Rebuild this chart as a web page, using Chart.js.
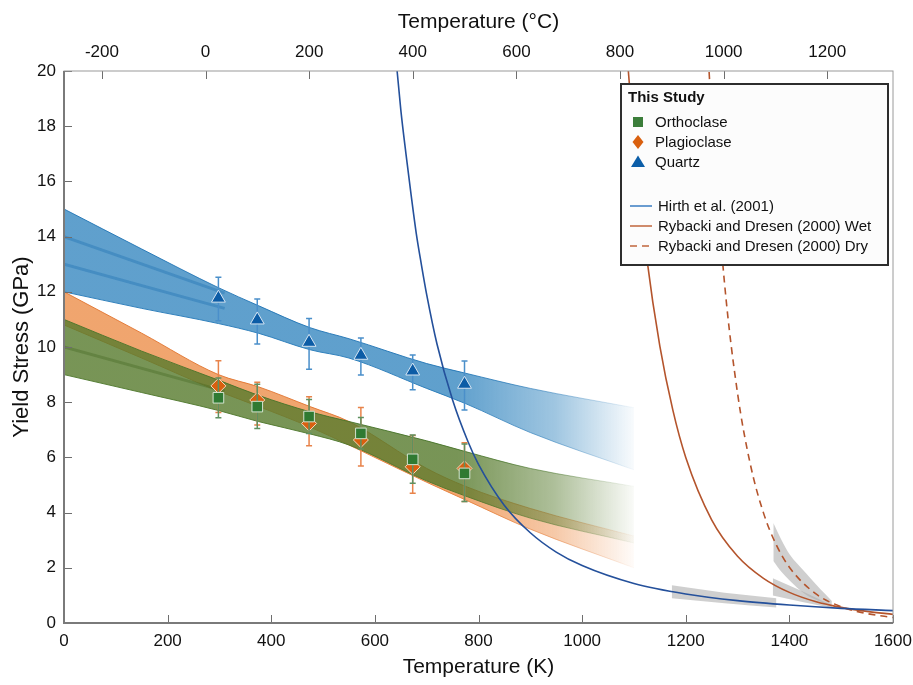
<!DOCTYPE html>
<html>
<head>
<meta charset="utf-8">
<script src="https://cdn.jsdelivr.net/npm/chart.js@4.4.1/dist/chart.umd.min.js"></script>
<style>
    html, body { margin: 0; padding: 0; background: #fff; }
    #wrap { width: 913px; height: 685px; }
</style>
</head>
<body>
<div id="wrap"><canvas id="yieldChart" width="913" height="685"></canvas></div>
<script>
// sample temperatures (K) and measured yield stress (GPa)
const sampleT = [298, 373, 473, 573, 673, 773];
const quartzY = [11.77, 10.98, 10.17, 9.70, 9.13, 8.65];
const quartzHi = [12.53, 11.74, 11.03, 10.33, 9.71, 9.49];
const quartzLo = [10.95, 10.11, 9.19, 8.99, 8.45, 7.72];
const plagY = [8.59, 8.08, 7.23, 6.63, 5.66, 5.60];
const plagHi = [9.50, 8.72, 8.20, 7.81, 6.79, 6.53];
const plagLo = [7.63, 7.17, 6.42, 5.69, 4.70, 4.40];
const orthY = [8.16, 7.84, 7.48, 6.87, 5.93, 5.42];
const orthHi = [8.88, 8.65, 8.10, 7.45, 6.81, 6.49];
const orthLo = [7.44, 7.05, 6.87, 6.30, 5.06, 4.40];

// fitted envelopes
const bandT = [0, 150, 298, 375, 475, 550, 700, 775, 900, 1100];
const quartzUpper = [15.0, 13.55, 12.15, 11.5, 10.7, 10.3, 9.4, 9.05, 8.5, 7.8];
const quartzLower = [12.0, 11.4, 10.85, 10.5, 9.9, 9.6, 8.5, 7.95, 6.9, 5.55];
const plagUpper = [12.0, 10.5, 9.0, 8.56, 7.84, 7.3, 5.6, 4.95, 4.15, 3.15];
const plagLower = [10.8, 9.6, 8.4, 7.85, 7.1, 6.45, 5.1, 4.46, 3.4, 2.0];
const orthUpper = [11.0, 9.85, 8.8, 8.25, 7.65, 7.3, 6.6, 6.21, 5.6, 4.95];
const orthLower = [9.0, 8.35, 7.7, 7.3, 6.85, 6.45, 5.15, 4.6, 3.8, 2.9];

const innerT = [0, 310];
const quartzInnerA = [14.0, 11.95];
const quartzInnerB = [13.0, 11.4];
const orthInner = [10.0, 8.4];

// published flow laws
const hirthT = [640, 650, 660, 670, 680, 690, 700, 720, 750, 780, 800, 850, 900, 950, 1000, 1100, 1200, 1300, 1400, 1500, 1600];
const hirthY = [20.6, 18.6, 17.0, 15.5, 14.1, 12.96, 11.9, 10.1, 8.08, 6.56, 5.75, 4.26, 3.27, 2.57, 2.08, 1.43, 1.05, 0.81, 0.65, 0.53, 0.45];
const wetT = [1085, 1100, 1125, 1150, 1175, 1200, 1250, 1300, 1350, 1400, 1450, 1500, 1550, 1600];
const wetY = [20.98, 17.56, 13.19, 10.03, 7.72, 6.0, 3.74, 2.42, 1.62, 1.11, 0.78, 0.566, 0.42, 0.313];
const dryT = [1240, 1250, 1275, 1300, 1325, 1350, 1375, 1400, 1450, 1500, 1550, 1600];
const dryY = [21.7, 18.4, 12.28, 8.32, 5.72, 3.99, 2.82, 2.02, 1.07, 0.59, 0.34, 0.20];

// grey uncertainty envelopes at high T
const grey1T = [1173, 1275, 1375];
const grey1Upper = [1.37, 1.1, 0.9];
const grey1Lower = [0.9, 0.72, 0.56];
const grey2T = [1368, 1425, 1482];
const grey2Upper = [1.62, 1.15, 0.63];
const grey2Lower = [1.0, 0.76, 0.55];
const grey3T = [1369, 1385, 1400, 1430, 1460, 1482];
const grey3Upper = [3.62, 3.0, 2.5, 1.85, 1.22, 0.8];
const grey3Lower = [2.25, 1.85, 1.55, 1.05, 0.77, 0.6];

const kelvinTicks = [0, 200, 400, 600, 800, 1000, 1200, 1400, 1600];
const celsiusTicks = [-200, 0, 200, 400, 600, 800, 1000, 1200];

const FONT = '"Liberation Sans", Arial, Helvetica, sans-serif';
Chart.defaults.font.family = FONT;
Chart.defaults.color = '#111';

const pts = (xs, ys) => xs.map((x, i) => ({ x: x, y: ys[i] }));

// band colour that fades out towards the high temperature end
function fadeFill(rgb, alpha) {
    return function(context) {
        const chart = context.chart;
        if (!chart.chartArea) return `rgba(${rgb},${alpha})`;
        const xs = chart.scales.x;
        const g = chart.ctx.createLinearGradient(xs.getPixelForValue(760), 0, xs.getPixelForValue(1100), 0);
        g.addColorStop(0, `rgba(${rgb},${alpha})`);
        g.addColorStop(0.55, `rgba(${rgb},${alpha * 0.6})`);
        g.addColorStop(1, `rgba(${rgb},0.03)`);
        return g;
    };
}

function band(upper, lower, xs, rgb, alpha, edge, order) {
    return [{
        data: pts(xs, upper),
        showLine: true, fill: '+1',
        backgroundColor: fadeFill(rgb, alpha),
        borderColor: fadeFill(edge, 0.9), borderWidth: 1,
        pointRadius: 0, cubicInterpolationMode: 'monotone', order: order
    }, {
        data: pts(xs, lower),
        showLine: true, fill: false,
        borderColor: fadeFill(edge, 0.9), borderWidth: 1,
        pointRadius: 0, cubicInterpolationMode: 'monotone', order: order
    }];
}

function greyBand(xs, upper, lower) {
    return [{
        data: pts(xs, upper), showLine: true, fill: '+1',
        backgroundColor: 'rgba(175,175,175,0.6)', borderWidth: 0,
        pointRadius: 0, cubicInterpolationMode: 'monotone', order: 8
    }, {
        data: pts(xs, lower), showLine: true, fill: false,
        borderWidth: 0, pointRadius: 0, cubicInterpolationMode: 'monotone', order: 8
    }];
}

function innerLine(ys, color) {
    return {
        data: pts(innerT, ys), showLine: true, fill: false,
        borderColor: color, borderWidth: 3, pointRadius: 0, order: 9
    };
}

const datasets = [
    ...band(quartzUpper, quartzLower, bandT, '42,128,188', 0.75, '30,115,180', 12),
    ...band(plagUpper, plagLower, bandT, '235,135,62', 0.75, '225,115,45', 11),
    ...band(orthUpper, orthLower, bandT, '86,122,44', 0.8, '70,115,40', 10),
    innerLine(quartzInnerA, 'rgba(30,112,178,0.4)'),
    innerLine(quartzInnerB, 'rgba(30,112,178,0.4)'),
    innerLine(orthInner, 'rgba(70,105,35,0.4)'),
    ...greyBand(grey1T, grey1Upper, grey1Lower),
    ...greyBand(grey2T, grey2Upper, grey2Lower),
    ...greyBand(grey3T, grey3Upper, grey3Lower),
    {
        label: 'Hirth et al. (2001)', legendLine: true,
        data: pts(hirthT, hirthY), showLine: true, fill: false,
        borderColor: '#24509b', borderWidth: 1.6, pointRadius: 0,
        cubicInterpolationMode: 'monotone', order: 5
    },
    {
        label: 'Rybacki and Dresen (2000) Wet', legendLine: true,
        data: pts(wetT, wetY), showLine: true, fill: false,
        borderColor: '#b4542c', borderWidth: 1.6, pointRadius: 0,
        cubicInterpolationMode: 'monotone', order: 5
    },
    {
        label: 'Rybacki and Dresen (2000) Dry', legendLine: true,
        data: pts(dryT, dryY), showLine: true, fill: false,
        borderColor: '#b4542c', borderWidth: 1.6, borderDash: [7, 5], pointRadius: 0,
        cubicInterpolationMode: 'monotone', order: 5
    },
    {
        label: 'Orthoclase', legendMarker: 'rect', markerColor: '#3b7d3a',
        data: pts(sampleT, orthY), errHi: orthHi, errLo: orthLo, errColor: '#5f9060',
        pointStyle: 'rect', pointRadius: 7.5, backgroundColor: '#2f7a32',
        borderColor: '#d4e3d0', borderWidth: 1, order: 1
    },
    {
        label: 'Plagioclase', legendMarker: 'diamond', markerColor: '#d9600f',
        data: pts(sampleT, plagY), errHi: plagHi, errLo: plagLo, errColor: '#e8834a',
        pointStyle: 'rectRot', pointRadius: 7.5, backgroundColor: '#d9600f',
        borderColor: '#f6d4b8', borderWidth: 1, order: 2
    },
    {
        label: 'Quartz', legendMarker: 'triangle', markerColor: '#0c5ea8',
        data: pts(sampleT, quartzY), errHi: quartzHi, errLo: quartzLo, errColor: '#4a8fca',
        pointStyle: 'triangle', pointRadius: 8, backgroundColor: '#0c5ca6',
        borderColor: '#d6e5f2', borderWidth: 1, order: 3
    }
];

// vertical error bars, drawn just under their markers
const errorBars = {
    id: 'errorBars',
    beforeDatasetDraw(chart, args) {
        const ds = chart.data.datasets[args.index];
        if (!ds.errHi) return;
        const ctx = chart.ctx, xs = chart.scales.x, ys = chart.scales.y;
        ctx.save();
        ctx.strokeStyle = ds.errColor;
        ctx.lineWidth = 1.5;
        ds.data.forEach((p, i) => {
            const px = xs.getPixelForValue(p.x);
            const top = ys.getPixelForValue(ds.errHi[i]);
            const bot = ys.getPixelForValue(ds.errLo[i]);
            ctx.beginPath();
            ctx.moveTo(px, top); ctx.lineTo(px, bot);
            ctx.moveTo(px - 3, top); ctx.lineTo(px + 3, top);
            ctx.moveTo(px - 3, bot); ctx.lineTo(px + 3, bot);
            ctx.stroke();
        });
        ctx.restore();
    }
};

// matlab style box with inward ticks
const axesBox = {
    id: 'axesBox',
    afterDatasetsDraw(chart) {
        const ctx = chart.ctx, a = chart.chartArea;
        const xs = chart.scales.x, x2 = chart.scales.x2, ys = chart.scales.y;
        ctx.save();
        ctx.strokeStyle = '#6e6e6e';
        ctx.lineWidth = 1;
        ctx.beginPath();
        xs.ticks.forEach(t => {
            const px = Math.round(xs.getPixelForValue(t.value)) + 0.5;
            ctx.moveTo(px, a.bottom); ctx.lineTo(px, a.bottom - 8);
        });
        x2.ticks.forEach(t => {
            const px = Math.round(x2.getPixelForValue(t.value)) + 0.5;
            ctx.moveTo(px, a.top); ctx.lineTo(px, a.top + 8);
        });
        ys.ticks.forEach(t => {
            const py = Math.round(ys.getPixelForValue(t.value)) + 0.5;
            ctx.moveTo(a.left, py); ctx.lineTo(a.left + 8, py);
        });
        ctx.stroke();
        ctx.strokeStyle = '#9a9a9a';
        ctx.strokeRect(a.left, a.top, a.right - a.left, a.bottom - a.top);
        ctx.strokeStyle = '#7a7a7a';
        ctx.lineWidth = 2;
        ctx.beginPath();
        ctx.moveTo(a.left, a.top); ctx.lineTo(a.left, a.bottom); ctx.lineTo(a.right, a.bottom);
        ctx.stroke();
        ctx.restore();
    }
};

function drawMarker(ctx, shape, x, y, color) {
    ctx.fillStyle = color;
    ctx.beginPath();
    if (shape === 'rect') {
        ctx.rect(x - 5, y - 5, 10, 10);
    } else if (shape === 'diamond') {
        ctx.moveTo(x, y - 7); ctx.lineTo(x + 5.5, y); ctx.lineTo(x, y + 7); ctx.lineTo(x - 5.5, y);
        ctx.closePath();
    } else {
        ctx.moveTo(x, y - 6.5); ctx.lineTo(x + 7, y + 5); ctx.lineTo(x - 7, y + 5);
        ctx.closePath();
    }
    ctx.fill();
}

const legendBox = {
    id: 'legendBox',
    afterDraw(chart) {
        const ctx = chart.ctx, a = chart.chartArea;
        const left = a.right - 272, top = a.top + 13, w = 267, h = 181;
        ctx.save();
        ctx.fillStyle = '#fcfcfc';
        ctx.fillRect(left, top, w, h);
        ctx.strokeStyle = '#2d2d2d';
        ctx.lineWidth = 2;
        ctx.strokeRect(left, top, w, h);
        ctx.textBaseline = 'middle';
        ctx.textAlign = 'left';
        ctx.fillStyle = '#111';
        ctx.font = 'bold 15px ' + FONT;
        ctx.fillText('This Study', left + 7, top + 14);
        ctx.font = '15px ' + FONT;
        const sets = chart.data.datasets;
        let y = top + 38;
        sets.filter(d => d.legendMarker).forEach(d => {
            drawMarker(ctx, d.legendMarker, left + 17, y, d.markerColor);
            ctx.fillStyle = '#111';
            ctx.fillText(d.label, left + 34, y + 1);
            y += 20;
        });
        y = top + 122;
        sets.filter(d => d.legendLine).forEach(d => {
            ctx.strokeStyle = d.label.startsWith('Hirth') ? '#3a7cc2' : '#c0663c';
            ctx.lineWidth = 1.5;
            ctx.setLineDash(d.borderDash || []);
            ctx.beginPath();
            ctx.moveTo(left + 9, y); ctx.lineTo(left + 31, y);
            ctx.stroke();
            ctx.setLineDash([]);
            ctx.fillStyle = '#111';
            ctx.fillText(d.label, left + 37, y + 1);
            y += 20;
        });
        ctx.restore();
    }
};

const plainTick = v => String(v);
// keep the plot box fixed: no extra room for overhanging end labels
const fixedHeight = h => s => { s.height = h; s.paddingLeft = 0; s.paddingRight = 0; };

new Chart(document.getElementById('yieldChart'), {
    type: 'scatter',
    data: { datasets: datasets },
    plugins: [errorBars, axesBox, legendBox],
    options: {
        responsive: false,
        animation: false,
        devicePixelRatio: 1,
        layout: { padding: { left: 0, right: 20, top: 0, bottom: 0 } },
        plugins: {
            legend: { display: false },
            tooltip: { enabled: false },
            filler: { propagate: false }
        },
        scales: {
            x: {
                type: 'linear', position: 'bottom', min: 0, max: 1600,
                afterBuildTicks: s => { s.ticks = kelvinTicks.map(v => ({ value: v })); },
                ticks: { padding: 8, font: { size: 17 }, color: '#111', maxRotation: 0, callback: plainTick },
                grid: { display: false, drawTicks: false },
                border: { display: false },
                title: { display: true, text: 'Temperature (K)', font: { size: 21 }, color: '#111', padding: { top: 0, bottom: 5 } },
                afterFit: fixedHeight(62)
            },
            x2: {
                type: 'linear', position: 'top', min: -273.15, max: 1326.85,
                afterBuildTicks: s => { s.ticks = celsiusTicks.map(v => ({ value: v })); },
                ticks: { padding: 8, font: { size: 17 }, color: '#111', maxRotation: 0, callback: plainTick },
                grid: { display: false, drawTicks: false },
                border: { display: false },
                title: { display: true, text: 'Temperature (°C)', font: { size: 21 }, color: '#111', padding: { top: 10, bottom: 0 } },
                afterFit: fixedHeight(71)
            },
            y: {
                type: 'linear', position: 'left', min: 0, max: 20,
                ticks: { stepSize: 2, padding: 8, font: { size: 17 }, color: '#111', callback: plainTick },
                grid: { display: false, drawTicks: false },
                border: { display: false },
                title: { display: true, text: 'Yield Stress (GPa)', font: { size: 22 }, color: '#111', padding: { top: 9, bottom: 0 } },
                afterFit: s => { s.width = 64; s.paddingTop = 0; s.paddingBottom = 0; }
            }
        }
    }
});
</script>
</body>
</html>
